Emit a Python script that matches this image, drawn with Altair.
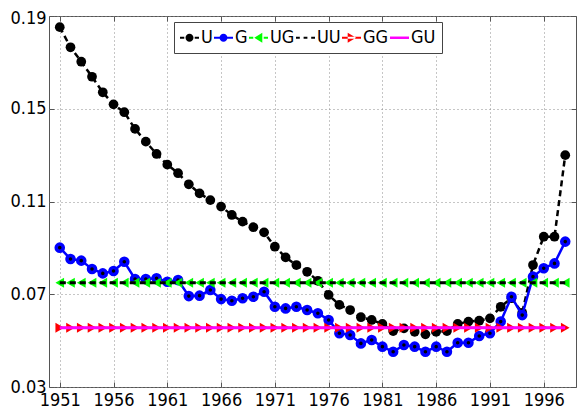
import altair as alt
import pandas as pd

years = list(range(1951, 1999))
u_vals = [0.1852, 0.1765, 0.1703, 0.1638, 0.1571, 0.1519, 0.1485, 0.1413, 0.1358, 0.1305,
          0.1259, 0.1222, 0.1174, 0.1135, 0.1106, 0.1078, 0.1042, 0.1013, 0.0989, 0.0967,
          0.0905, 0.0859, 0.0826, 0.0797, 0.0758, 0.0697, 0.0654, 0.0632, 0.0601, 0.0589,
          0.0572, 0.0541, 0.0553, 0.0538, 0.0527, 0.0538, 0.0541, 0.0572, 0.0582, 0.0586,
          0.0596, 0.0646, 0.0683, 0.0620, 0.0826, 0.0948, 0.0948, 0.1300]
g_vals = [0.0901, 0.0852, 0.0845, 0.0809, 0.0790, 0.0800, 0.0840, 0.0766, 0.0766, 0.0769,
          0.0754, 0.0761, 0.0692, 0.0694, 0.0718, 0.0679, 0.0672, 0.0683, 0.0689, 0.0711,
          0.0646, 0.0639, 0.0646, 0.0632, 0.0618, 0.0589, 0.0532, 0.0524, 0.0488, 0.0503,
          0.0474, 0.0452, 0.0481, 0.0474, 0.0452, 0.0474, 0.0452, 0.0491, 0.0491, 0.0520,
          0.0532, 0.0582, 0.0689, 0.0610, 0.0776, 0.0812, 0.0833, 0.0927]
ug_level = 0.0750
uu_level = 0.0750
gg_level = 0.0555
gu_level = 0.0555

series = ["U", "G", "UG", "UU", "GG", "GU"]
colors = ["#000000", "#0000FF", "#00FF00", "#000000", "#FF0000", "#FF00FF"]
x_ticks = [1951, 1956, 1961, 1966, 1971, 1976, 1981, 1986, 1991, 1996]
y_ticks = [0.03, 0.07, 0.11, 0.15, 0.19]

# legend symbols: line + marker glyphs as SVG paths
legend_paths = [
    "M-1,-0.11H-0.55V0.11H-1Z M0.55,-0.11H1V0.11H0.55Z M0.42,0A0.42,0.42 0 1,1 -0.42,0A0.42,0.42 0 1,1 0.42,0Z",
    "M-1,-0.11H1V0.11H-1Z M0.42,0A0.42,0.42 0 1,1 -0.42,0A0.42,0.42 0 1,1 0.42,0Z",
    "M-1,-0.11H-0.55V0.11H-1Z M0.55,-0.11H1V0.11H0.55Z M-0.45,0L0.4,-0.52L0.4,0.52Z",
    "M-1,-0.11H-0.6V0.11H-1Z M-0.2,-0.11H0.2V0.11H-0.2Z M0.6,-0.11H1V0.11H0.6Z",
    "M-1,-0.11H1V0.11H-1Z M0.48,0L-0.4,-0.52L-0.4,0.52Z",
    "M-1,-0.13H1V0.13H-1Z",
]

rows = []
for s, vals in [("U", u_vals), ("G", g_vals),
                ("UG", [ug_level] * len(years)), ("UU", [uu_level] * len(years)),
                ("GG", [gg_level] * len(years)), ("GU", [gu_level] * len(years))]:
    for yr, v in zip(years, vals):
        rows.append({"year": yr, "value": v, "series": s})
df = pd.DataFrame(rows)

FONT = "'DejaVu Sans Condensed', 'Liberation Sans Narrow', 'Liberation Sans', sans-serif"
FS = 18

xscale = alt.Scale(domain=[1950, 1999], nice=False, zero=False)
yscale = alt.Scale(domain=[0.03, 0.19], nice=False, zero=False)

x_main = alt.X("year:Q", scale=xscale, title=None, axis=alt.Axis(
    values=x_ticks, format="d", grid=True, gridDash=[1, 3], gridColor="#8c8c8c",
    domain=False, ticks=True, tickSize=5, offset=-5, tickColor="#555555",
    labelPadding=4, labelFont=FONT, labelFontSize=FS, labelColor="#000000"))
y_main = alt.Y("value:Q", scale=yscale, title=None, axis=alt.Axis(
    values=y_ticks, format=".2f", grid=True, gridDash=[1, 3], gridColor="#8c8c8c",
    domain=False, ticks=True, tickSize=5, offset=-5, tickColor="#555555",
    labelPadding=3, labelFont=FONT, labelFontSize=FS, labelColor="#000000",
    labelOffset={"condition": {"test": "datum.value >= 0.185", "value": 2}, "value": 0}))
x_none = alt.X("year:Q", scale=xscale, axis=None)
y_none = alt.Y("value:Q", scale=yscale, axis=None)
x_top = alt.X("year:Q", scale=xscale, title=None, axis=alt.Axis(
    orient="top", values=x_ticks, labels=False, grid=False, domain=False,
    tickSize=5, offset=-5, tickColor="#555555"))
y_right = alt.Y("value:Q", scale=yscale, title=None, axis=alt.Axis(
    orient="right", values=y_ticks, labels=False, grid=False, domain=False,
    tickSize=5, offset=-5, tickColor="#555555"))

base = alt.Chart(df)

def sub(name):
    return base.transform_filter(alt.datum.series == name)

layers = []
# U
layers.append(sub("U").mark_line(color="#000000", strokeWidth=2.5, strokeDash=[6, 4]).encode(x=x_main, y=y_main))
layers.append(sub("U").mark_point(shape="circle", filled=True, color="#000000", size=95, opacity=1).encode(x=x_none, y=y_none))
# G
layers.append(sub("G").mark_line(color="#0000FF", strokeWidth=2.5).encode(x=x_none, y=y_none))
layers.append(sub("G").mark_point(shape="circle", filled=True, fill="#000000", stroke="#0000FF",
                                  strokeWidth=3.5, size=50, opacity=1).encode(x=x_none, y=y_none))
# UG
layers.append(sub("UG").mark_line(color="#00FF00", strokeWidth=2, strokeDash=[6, 4]).encode(x=x_none, y=y_none))
layers.append(sub("UG").mark_point(shape="triangle-left", filled=True, color="#00FF00", size=100, opacity=1).encode(x=x_none, y=y_none))
# UU
layers.append(sub("UU").mark_line(color="#000000", strokeWidth=3, strokeDash=[6, 4]).encode(x=x_none, y=y_none))
# GG
layers.append(sub("GG").mark_line(color="#FF0000", strokeWidth=2).encode(x=x_none, y=y_none))
layers.append(sub("GG").mark_point(shape="triangle-right", filled=True, color="#FF0000", size=100, opacity=1).encode(x=x_none, y=y_none))
# GU
layers.append(sub("GU").mark_line(color="#FF00FF", strokeWidth=3).encode(x=x_none, y=y_none))

# legend + top/right box ticks (no data drawn)
legend_layer = base.transform_filter("false").mark_point(filled=True, opacity=1).encode(
    x=x_top, y=y_right,
    color=alt.Color("series:N", scale=alt.Scale(domain=series, range=colors), title=None,
                    legend=alt.Legend(orient="none", legendX=125, legendY=6, direction="horizontal",
                                      fillColor="#ffffff", strokeColor="#444444", padding=6,
                                      symbolSize=361, labelOffset=2, columnPadding=1,
                                      labelFont=FONT, labelFontSize=FS, labelColor="#000000",
                                      symbolStrokeWidth=0, symbolOpacity=1)),
    shape=alt.Shape("series:N", scale=alt.Scale(domain=series, range=legend_paths), title=None),
)
layers.append(legend_layer)

chart = alt.layer(*layers).resolve_axis(x="independent", y="independent").properties(
    width=527, height=371,
    autosize=alt.AutoSizeParams(type="none"),
    padding={"left": 41, "top": 8, "right": 2, "bottom": 24},
    background="#ffffff",
).configure_view(stroke="#555555", strokeWidth=1)

chart.save("out.html", embed_options={"renderer": "svg", "actions": False})
